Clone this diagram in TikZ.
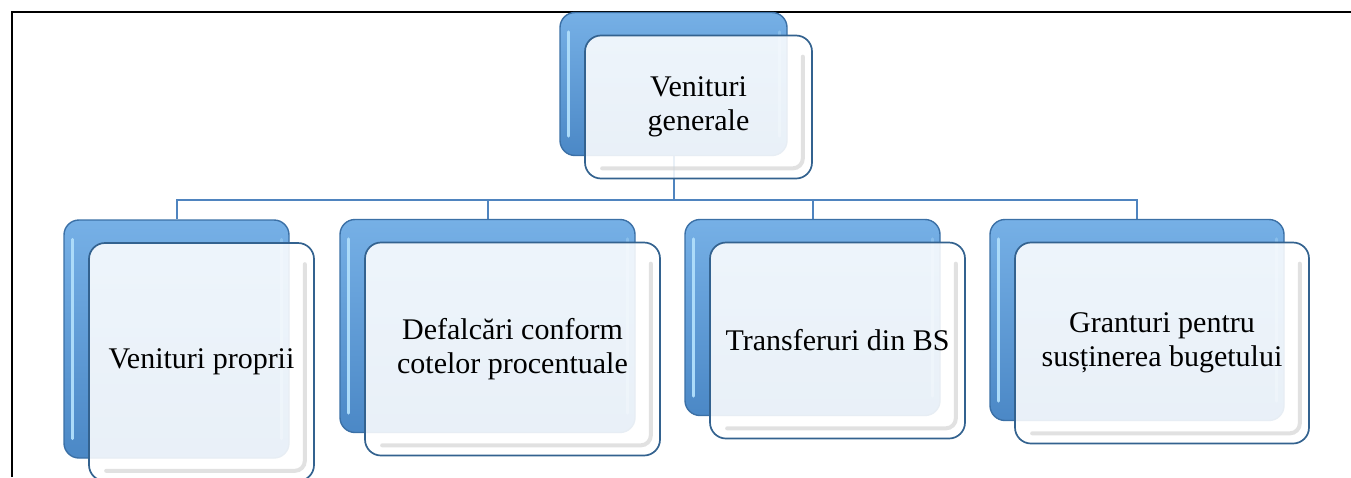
\documentclass[tikz,border=0pt]{standalone}
\usepackage{fontspec}
\setmainfont{Liberation Serif}
\usetikzlibrary{calc}

\definecolor{backblue}{HTML}{5B9BD5}
\definecolor{backtop}{HTML}{76B0E6}
\definecolor{backbottom}{HTML}{4B88C6}
\definecolor{backedge}{HTML}{3B70A6}
\definecolor{backlight}{HTML}{ACDBF9}
\definecolor{frontedge}{HTML}{33628F}
\definecolor{linkblue}{HTML}{4F84BF}
\definecolor{bevelgray}{HTML}{CFCFCF}

\pgfdeclarelayer{bg}
\pgfsetlayers{bg,main}

\tikzset{
  backbox/.style={rounded corners=15pt, draw=backedge, line width=1.4pt,
    top color=backtop, bottom color=backbottom, inner sep=0pt},
  backshine/.style={draw=backlight, line width=3pt, line cap=round},
  frontbox/.style={rounded corners=16pt, draw=frontedge, line width=1.7pt,
    fill=white, fill opacity=0.88, text opacity=1, inner sep=0pt,
    align=center, font=\fontsize{30}{34}\selectfont},
  bevel/.style={rounded corners=10pt, draw=bevelgray, line width=4pt,
    draw opacity=0.6, line cap=round},
  link/.style={draw=linkblue, line width=2pt},
  frame/.style={draw=black, line width=2pt}
}

% back box b<name>, glossy stripes, front box f<name> carrying the label
\newcommand\tierbox[6]{%
  \node[backbox, minimum width=#4pt, minimum height=#5pt] (b#1) at (#2,#3) {};
  \draw[backshine] ($(b#1.north west)+(9,20)$) -- ($(b#1.south west)+(9,-20)$);
  \draw[backshine, draw opacity=0.4] ($(b#1.north east)+(-8,20)$) -- ($(b#1.south east)+(-8,-20)$);
  \node[frontbox, minimum width=#4pt, minimum height=#5pt] (f#1) at ($(b#1)+(25,23)$) {#6};
  % inner bevel along the right and bottom edges
  \draw[bevel] ($(f#1.north east)+(-10,22)$) -- ($(f#1.south east)+(-10,-11)$)
    -- ($(f#1.south west)+(18,-11)$);
}

\begin{document}
\begin{tikzpicture}[x=1pt, y=-1pt]
  \useasboundingbox (0,0) rectangle (1351,477);

  % page frame
  \draw[frame] (11.5,477) -- (11.5,11.5) -- (1351,11.5);

  \tierbox{0}{673.5}{84}{227}{143}{Venituri\\generale}
  \tierbox{1}{176.5}{339}{225}{238}{Venituri proprii}
  \tierbox{2}{487.5}{326}{295}{213}{Defalcări conform\\cotelor procentuale}
  \tierbox{3}{812.5}{317.5}{255}{196}{Transferuri din BS}
  \tierbox{4}{1137}{320}{294}{201}{Granturi pentru\\susținerea bugetului}

  % org-chart connectors under the boxes
  \begin{pgfonlayer}{bg}
    \coordinate (bar) at (0,200);
    \foreach \k in {1,...,4}
      \draw[link] (b0.south) -- (b0.south |- bar) -| (b\k.north);
  \end{pgfonlayer}
\end{tikzpicture}
\end{document}
